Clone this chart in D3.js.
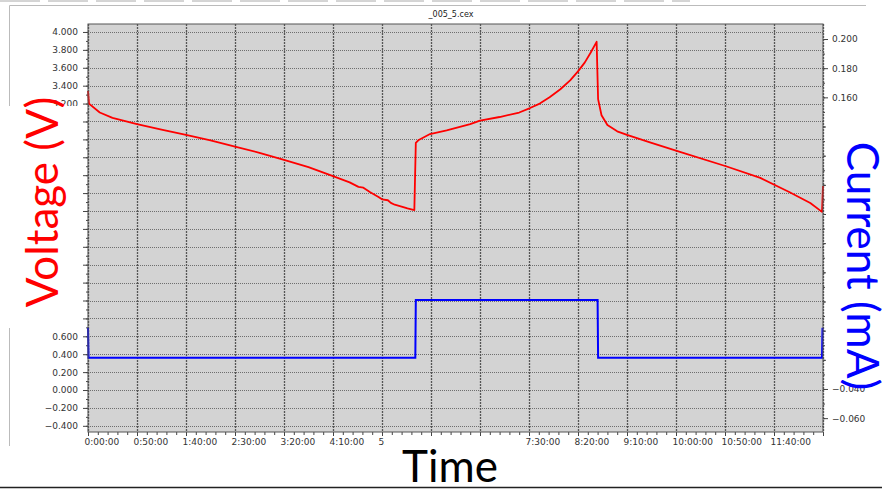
<!DOCTYPE html>
<html>
<head>
<meta charset="utf-8">
<script src="https://cdn.jsdelivr.net/npm/d3@7"></script>
<style>
	body { margin: 0; background: #fff; }
	svg { display: block; }
	.tick-label { font-family: 'DejaVu Sans', sans-serif; font-size: 9px; fill: #333; }
	.big-label { font-family: Lato, 'Open Sans', sans-serif; font-size: 44px; }
</style>
</head>
<body>
<div id="chart"></div>
<script>
// time in minutes, voltage in V (left axis)
var voltTime = [0, 1, 12, 25, 50, 75, 100, 125, 150, 175, 200, 225, 250, 267, 276, 281, 288, 296, 300, 306, 309, 313, 320, 326, 333,
	334.5, 337, 349, 366, 390, 400, 420, 440, 451, 461, 471, 482, 492, 500, 507, 513, 519,
	520.5, 524, 530, 540, 550, 575, 604, 651, 686, 716, 737, 749, 750];
var voltage = [3.34, 3.20, 3.10, 3.04, 2.97, 2.91, 2.85, 2.79, 2.72, 2.65, 2.57, 2.49, 2.39, 2.32, 2.27, 2.26, 2.21, 2.16, 2.13, 2.12, 2.09, 2.07, 2.05, 2.03, 2.01,
	2.76, 2.79, 2.86, 2.90, 2.97, 3.01, 3.05, 3.10, 3.15, 3.20, 3.27, 3.36, 3.46, 3.56, 3.66, 3.77, 3.89,
	3.25, 3.07, 2.96, 2.89, 2.85, 2.76, 2.66, 2.50, 2.37, 2.21, 2.09, 1.99, 2.28];

// time in minutes, current in mA (right axis)
var currTime = [0, 0.5, 334, 334.5, 520, 520.5, 749, 749.5];
var current = [0.002, -0.0185, -0.0185, 0.021, 0.021, -0.0185, -0.0185, 0.002];

var timeTicks = [0, 50, 100, 150, 200, 250, 300, 350, 400, 450, 500, 550, 600, 650, 700, 750];
var timeTickLabels = ['0:00:00', '0:50:00', '1:40:00', '2:30:00', '3:20:00', '4:10:00', '5:00:00', '5:50:00',
	'6:40:00', '7:30:00', '8:20:00', '9:10:00', '10:00:00', '10:50:00', '11:40:00', ''];
var voltTicks = [-0.4, -0.2, 0, 0.2, 0.4, 0.6, 0.8, 1.0, 1.2, 1.4, 1.6, 1.8, 2.0, 2.2, 2.4, 2.6, 2.8, 3.0, 3.2, 3.4, 3.6, 3.8, 4.0];
var currTicks = [-0.06, -0.04, -0.02, 0, 0.02, 0.04, 0.06, 0.08, 0.10, 0.12, 0.14, 0.16, 0.18, 0.20];

var width = 882, height = 489;
var margin = {left: 88, right: 59, top: 24, bottom: 57};
var plotW = width - margin.left - margin.right;
var plotH = height - margin.top - margin.bottom;

var svg = d3.select('#chart').append('svg')
	.attr('width', width)
	.attr('height', height)

/* window frame bits from the screenshot */
svg.append('line').attr('x1', 0).attr('x2', 690).attr('y1', 1).attr('y2', 1)
	.attr('stroke', '#aaa').attr('stroke-dasharray', '40,8')
svg.append('path')
	.attr('d', 'M9.5,446V5.5H866')
	.attr('fill', 'none').attr('stroke', '#bbb')
svg.append('line').attr('x1', 0).attr('x2', width).attr('y1', 487.5).attr('y2', 487.5)
	.attr('stroke', '#222').attr('stroke-width', 1.5)

svg.append('text')
	.attr('x', 451).attr('y', 17)
	.attr('text-anchor', 'middle')
	.style('font-family', 'DejaVu Sans, sans-serif')
	.style('font-size', '8px')
	.attr('fill', '#222')
	.text('_005_5.cex')

var x = d3.scaleLinear().domain([0, 750]).range([0, plotW]);
var yV = d3.scaleLinear().domain([-0.469, 4.089]).range([plotH, 0]);
var yI = d3.scaleLinear().domain([-0.0695, 0.2103]).range([plotH, 0]);

var plot = svg.append('g')
	.attr('transform', 'translate(' + margin.left + ',' + margin.top + ')')

plot.append('rect')
	.attr('width', plotW)
	.attr('height', plotH)
	.attr('fill', '#d3d3d3')

// grid
plot.append('g').selectAll('line')
	.data(voltTicks)
	.join('line')
	.attr('x1', 0).attr('x2', plotW)
	.attr('y1', function(d) { return Math.round(yV(d)) + 0.5 })
	.attr('y2', function(d) { return Math.round(yV(d)) + 0.5 })
	.attr('stroke', '#6e6e6e')
	.attr('stroke-dasharray', '1,1')

plot.append('g').selectAll('line')
	.data(timeTicks)
	.join('line')
	.attr('y1', 0).attr('y2', plotH)
	.attr('x1', function(d) { return Math.round(x(d)) + 0.5 })
	.attr('x2', function(d) { return Math.round(x(d)) + 0.5 })
	.attr('stroke', '#555')
	.attr('stroke-width', 1.3)
	.attr('stroke-dasharray', '2,1')

// axes
function styleAxis(g) {
	g.select('.domain').remove()
	g.selectAll('line').attr('stroke', '#444')
	g.selectAll('text').attr('class', 'tick-label').attr('fill', null).attr('font-family', null).attr('font-size', null)
}

var minorV = d3.range(-0.4, 4.05, 0.1);
var minorI = d3.range(-0.06, 0.205, 0.01);
var minorT = d3.range(0, 751, 10);

plot.append('g')
	.call(d3.axisLeft(yV).tickValues(minorV).tickSize(2).tickFormat(''))
	.call(styleAxis)
plot.append('g')
	.call(d3.axisLeft(yV).tickValues(voltTicks).tickSize(5).tickPadding(5).tickFormat(d3.format('.3f')))
	.call(styleAxis)

plot.append('g')
	.attr('transform', 'translate(' + plotW + ',0)')
	.call(d3.axisRight(yI).tickValues(minorI).tickSize(2).tickFormat(''))
	.call(styleAxis)
plot.append('g')
	.attr('transform', 'translate(' + plotW + ',0)')
	.call(d3.axisRight(yI).tickValues(currTicks).tickSize(5).tickPadding(4).tickFormat(d3.format('.3f')))
	.call(styleAxis)

plot.append('g')
	.attr('transform', 'translate(0,' + plotH + ')')
	.call(d3.axisBottom(x).tickValues(minorT).tickSize(3).tickFormat(''))
	.call(styleAxis)
var xAxisG = plot.append('g')
	.attr('transform', 'translate(0,' + plotH + ')')
	.call(d3.axisBottom(x).tickValues(timeTicks).tickSize(4)
		.tickFormat(function(d, i) { return timeTickLabels[i] }))
	.call(styleAxis)
xAxisG.selectAll('text')
	.attr('text-anchor', 'start')
	.attr('x', -4)
	.attr('y', 7)

// series
var voltLine = d3.line()
	.x(function(d, i) { return x(voltTime[i]) })
	.y(function(d) { return yV(d) })
var currLine = d3.line()
	.x(function(d, i) { return x(currTime[i]) })
	.y(function(d) { return yI(d) })

plot.append('path')
	.datum(current)
	.attr('d', currLine)
	.attr('fill', 'none')
	.attr('stroke', '#0000ff')
	.attr('stroke-width', 2)

plot.append('path')
	.datum(voltage)
	.attr('d', voltLine)
	.attr('fill', 'none')
	.attr('stroke', '#ff0000')
	.attr('stroke-width', 1.8)
	.attr('stroke-linejoin', 'round')

plot.append('rect')
	.attr('width', plotW)
	.attr('height', plotH)
	.attr('fill', 'none')
	.attr('stroke', '#555')

/* slide text boxes that sit over the chart */
svg.append('rect').attr('x', 0).attr('y', 106).attr('width', 79).attr('height', 222).attr('fill', '#fff')
svg.append('rect').attr('x', 826).attr('y', 112).attr('width', 56).attr('height', 262).attr('fill', '#fff')
svg.append('rect').attr('x', 385).attr('y', 436).attr('width', 135).attr('height', 50).attr('fill', '#fff')

svg.append('text')
	.attr('class', 'big-label')
	.attr('transform', 'translate(58,202) rotate(-90)')
	.attr('text-anchor', 'middle')
	.attr('fill', '#ff0000')
	.text('Voltage (V)')

svg.append('text')
	.attr('class', 'big-label')
	.attr('transform', 'translate(847,266) rotate(90)')
	.attr('text-anchor', 'middle')
	.attr('fill', '#0000ff')
	.text('Current (mA)')

svg.append('text')
	.attr('class', 'big-label')
	.attr('x', 450).attr('y', 482)
	.attr('text-anchor', 'middle')
	.attr('fill', '#000')
	.text('Time')
</script>
</body>
</html>
